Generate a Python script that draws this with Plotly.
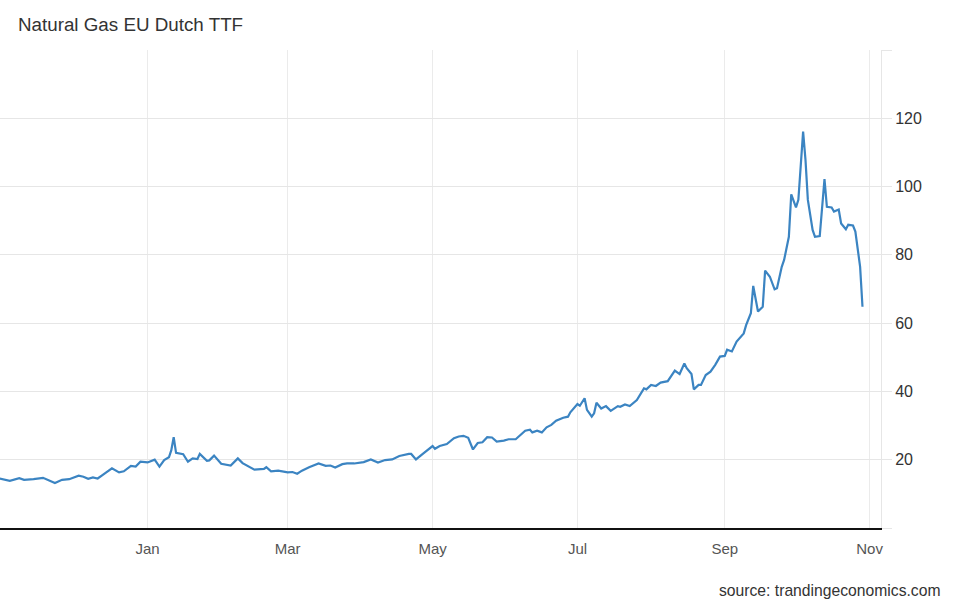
import plotly.graph_objects as go

dates = [
    "2020-10-30", "2020-11-04", "2020-11-08", "2020-11-10", "2020-11-14", "2020-11-18",
    "2020-11-23", "2020-11-26", "2020-11-29", "2020-12-03", "2020-12-05", "2020-12-07",
    "2020-12-09", "2020-12-11", "2020-12-13", "2020-12-17", "2020-12-20", "2020-12-22",
    "2020-12-25", "2020-12-27", "2020-12-29", "2021-01-01", "2021-01-04", "2021-01-06",
    "2021-01-08", "2021-01-10", "2021-01-11", "2021-01-12", "2021-01-13", "2021-01-16",
    "2021-01-18", "2021-01-20", "2021-01-22", "2021-01-23", "2021-01-26", "2021-01-27",
    "2021-01-29", "2021-02-01", "2021-02-05", "2021-02-08", "2021-02-10", "2021-02-13",
    "2021-02-15", "2021-02-19", "2021-02-20", "2021-02-22", "2021-02-25", "2021-03-01",
    "2021-03-03", "2021-03-05", "2021-03-07", "2021-03-10", "2021-03-14", "2021-03-17",
    "2021-03-19", "2021-03-21", "2021-03-24", "2021-03-26", "2021-03-29", "2021-04-02",
    "2021-04-05", "2021-04-08", "2021-04-11", "2021-04-14", "2021-04-17", "2021-04-21",
    "2021-04-22", "2021-04-24", "2021-04-25", "2021-04-27", "2021-05-01", "2021-05-02",
    "2021-05-04", "2021-05-07", "2021-05-10", "2021-05-12", "2021-05-14", "2021-05-16",
    "2021-05-18", "2021-05-20", "2021-05-22", "2021-05-24", "2021-05-26", "2021-05-28",
    "2021-05-31", "2021-06-02", "2021-06-05", "2021-06-07", "2021-06-09", "2021-06-11",
    "2021-06-12", "2021-06-14", "2021-06-16", "2021-06-18", "2021-06-20", "2021-06-22",
    "2021-06-25", "2021-06-27", "2021-06-28", "2021-07-01", "2021-07-02", "2021-07-04",
    "2021-07-05", "2021-07-07", "2021-07-08", "2021-07-09", "2021-07-11", "2021-07-13",
    "2021-07-15", "2021-07-18", "2021-07-19", "2021-07-21", "2021-07-23", "2021-07-26",
    "2021-07-29", "2021-07-30", "2021-08-01", "2021-08-03", "2021-08-05", "2021-08-08",
    "2021-08-11", "2021-08-13", "2021-08-15", "2021-08-16", "2021-08-18", "2021-08-19",
    "2021-08-21", "2021-08-22", "2021-08-24", "2021-08-26", "2021-08-28", "2021-08-30",
    "2021-09-01", "2021-09-02", "2021-09-04", "2021-09-06", "2021-09-09", "2021-09-10",
    "2021-09-12", "2021-09-13", "2021-09-15", "2021-09-17", "2021-09-18", "2021-09-20",
    "2021-09-22", "2021-09-23", "2021-09-25", "2021-09-26", "2021-09-28", "2021-09-29",
    "2021-10-01", "2021-10-02", "2021-10-04", "2021-10-05", "2021-10-06", "2021-10-08",
    "2021-10-09", "2021-10-11", "2021-10-12", "2021-10-13", "2021-10-14", "2021-10-16",
    "2021-10-17", "2021-10-19", "2021-10-20", "2021-10-22", "2021-10-23", "2021-10-25",
    "2021-10-26", "2021-10-28", "2021-10-29",
]

prices = [
    14.6, 13.8, 14.6, 14.1, 14.3, 14.7,
    13.2, 14.1, 14.3, 15.3, 15.0, 14.4,
    14.8, 14.5, 15.5, 17.5, 16.3, 16.6,
    18.2, 18.0, 19.4, 19.2, 20.0, 18.0,
    19.9, 20.7, 22.8, 26.6, 22.0, 21.6,
    19.4, 20.4, 20.2, 21.7, 19.7, 19.8,
    21.2, 18.8, 18.3, 20.4, 19.0, 17.8,
    17.1, 17.3, 17.8, 16.6, 16.8, 16.3,
    16.4, 15.9, 16.8, 17.8, 18.9, 18.2,
    18.3, 17.7, 18.7, 18.9, 18.9, 19.3,
    20.1, 19.2, 19.9, 20.1, 21.1, 21.7,
    21.7, 20.1, 20.7, 21.8, 24.0, 23.2,
    24.0, 24.6, 26.3, 26.8, 27.0, 26.4,
    23.0, 24.9, 25.1, 26.6, 26.5, 25.3,
    25.6, 26.0, 26.0, 27.2, 28.5, 28.8,
    28.0, 28.5, 28.0, 29.5, 30.2, 31.4,
    32.3, 32.6, 33.9, 36.3, 35.8, 38.0,
    34.6, 32.6, 33.6, 36.7, 35.0, 35.7,
    34.3, 35.7, 35.5, 36.2, 35.7, 37.5,
    40.9, 40.6, 41.9, 41.6, 42.6, 43.0,
    46.1, 45.1, 48.2, 46.8, 45.1, 40.6,
    41.9, 41.9, 44.8, 45.8, 47.8, 50.2,
    50.4, 52.2, 51.7, 54.6, 57.0, 59.4,
    62.9, 70.9, 63.4, 64.8, 75.4, 73.6,
    69.9, 70.2, 76.5, 78.5, 85.3, 97.7,
    93.9, 96.1, 116.1, 107.8, 96.1, 87.3,
    85.3, 85.5, 94.1, 102.2, 94.1, 93.9,
    92.7, 93.3, 89.2, 87.5, 88.8, 88.6,
    86.8, 76.5, 64.8,
]

x_tick_vals = ["2021-01-01", "2021-03-01", "2021-05-01", "2021-07-01", "2021-09-01", "2021-11-01"]
x_tick_text = ["Jan", "Mar", "May", "Jul", "Sep", "Nov"]
y_tick_vals = [0, 20, 40, 60, 80, 100, 120, 140]
y_tick_text = ["", "20", "40", "60", "80", "100", "120", ""]

title_text = "Natural Gas EU Dutch TTF"
source_text = "source: trandingeconomics.com"

fig = go.Figure()
fig.add_trace(go.Scatter(
    x=dates, y=prices, mode="lines",
    line=dict(color="#3b84c2", width=2.2),
    hoverinfo="x+y",
))

FONT = "Liberation Sans, Arial, sans-serif"
W, H = 956, 600
ml, mr, mt, mb = 0, 75, 50, 72
pw = W - ml - mr
ph = H - mt - mb

fig.update_layout(
    width=W, height=H,
    margin=dict(l=ml, r=mr, t=mt, b=mb, pad=0),
    paper_bgcolor="white", plot_bgcolor="white",
    showlegend=False,
    font=dict(family=FONT, color="#333333"),
    title=dict(
        text=title_text, xref="container", yref="container",
        x=18 / W, xanchor="left", y=1 - 24 / H, yanchor="middle",
        font=dict(family=FONT, size=18.8, color="#333333"),
    ),
    xaxis=dict(
        type="date",
        range=["2020-10-30 21:00", "2021-11-05 19:00"],
        tickvals=x_tick_vals, ticktext=x_tick_text,
        showgrid=True, gridcolor="#ebebeb", gridwidth=1,
        showline=True, linecolor="#111111", linewidth=1.5,
        ticks="", zeroline=False,
        ticklabelstandoff=6,
        tickfont=dict(family=FONT, size=15, color="#555555"),
    ),
    yaxis=dict(
        side="right",
        range=[0, 140],
        tickvals=y_tick_vals, ticktext=y_tick_text,
        showgrid=True, gridcolor="#e6e6e6", gridwidth=1,
        showline=True, linecolor="#e6e6e6", linewidth=1,
        ticks="outside", ticklen=10, tickcolor="#e6e6e6",
        zeroline=False,
        tickfont=dict(family=FONT, size=16, color="#333333"),
    ),
)

fig.add_annotation(
    text=source_text, xref="paper", yref="paper",
    x=(942 - ml) / pw, xanchor="right",
    y=(H - mb - 590) / ph, yanchor="middle",
    showarrow=False,
    font=dict(family=FONT, size=15.7, color="#333333"),
)

fig.write_html("out.html")
